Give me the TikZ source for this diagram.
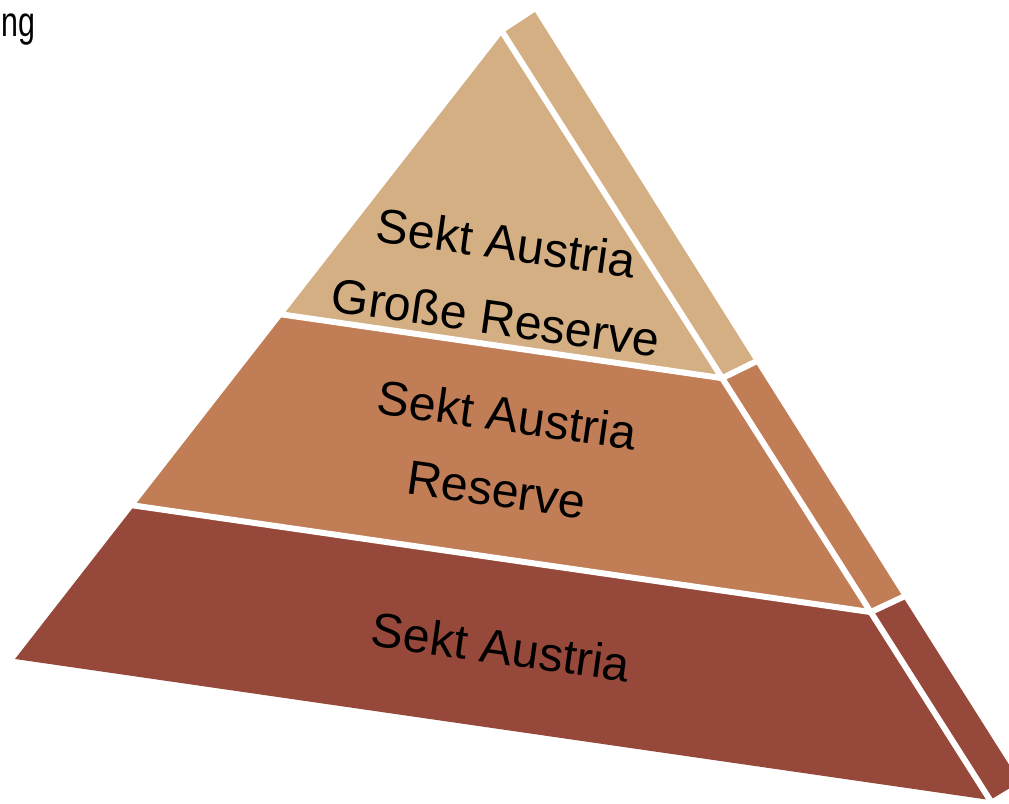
\documentclass[tikz,border=0pt]{standalone}
\usepackage{fontspec}
\setmainfont{Liberation Sans}
\usetikzlibrary{calc}
\definecolor{tierTop}{RGB}{212,175,131}
\definecolor{tierMid}{RGB}{193,125,85}
\definecolor{tierLow}{RGB}{150,73,58}
\tikzset{
	gapLine/.style={white, line width=0.12cm},
	tierText/.style={font=\fontsize{27.5}{43}\selectfont, align=center, rotate=-8, inner sep=0pt}
}

\begin{document}
\begin{tikzpicture}[x=0.02cm, y=-0.02cm]
			%%%%% START %%%%%
			
			\path[use as bounding box] (0, 0) rectangle (1009, 804);
			\clip (0, 0) rectangle (1009, 804);
			
			\coordinate (apex) at (503, 33);
			\coordinate (bl) at (15, 659);
			\coordinate (br) at (990, 800);
			\coordinate (sideTop) at (535, 12);
			\coordinate (sideLow) at (1020, 782);
			
			\coordinate (l1) at ($(apex)!0.45!(bl)$);
			\coordinate (r1) at ($(apex)!0.45!(br)$);
			\coordinate (l2) at ($(apex)!0.755!(bl)$);
			\coordinate (r2) at ($(apex)!0.755!(br)$);
			\coordinate (s1) at (755, 362);
			\coordinate (s2) at (903, 597);
			
			% front face
			\fill[tierTop] (apex) -- (r1) -- (l1) -- cycle;
			\fill[tierMid] (l1) -- (r1) -- (r2) -- (l2) -- cycle;
			\fill[tierLow] (l2) -- (r2) -- (br) -- (bl) -- cycle;
			
			% side face
			\fill[tierTop] (apex) -- (sideTop) -- (s1) -- (r1) -- cycle;
			\fill[tierMid] (r1) -- (s1) -- (s2) -- (r2) -- cycle;
			\fill[tierLow] (r2) -- (s2) -- (sideLow) -- (br) -- cycle;
			
			% gaps
			\draw[gapLine] ($(apex)!-0.05!(br)$) -- ($(apex)!1.05!(br)$);
			\draw[gapLine] ($(r1)!1.1!(l1)$) -- (r1);
			\draw[gapLine] ($(r2)!1.1!(l2)$) -- (r2);
			\draw[gapLine] (r1) -- ($(r1)!1.4!(s1)$);
			\draw[gapLine] (r2) -- ($(r2)!1.4!(s2)$);
			
			\node[tierText] (topText) at (501, 280) {Sekt Austria\\Große Reserve};
			\node[tierText] (midText) at (502, 452) {Sekt Austria\\Reserve};
			\node[tierText] (lowText) at (501, 647) {Sekt Austria};
			
			\node[font=\fontsize{24}{28}\selectfont, anchor=base west, inner sep=0pt] (title) at (1, 37) {\scalebox{0.72}[1]{ng}};
			
			%%%%% END %%%%%
\end{tikzpicture}
\end{document}
